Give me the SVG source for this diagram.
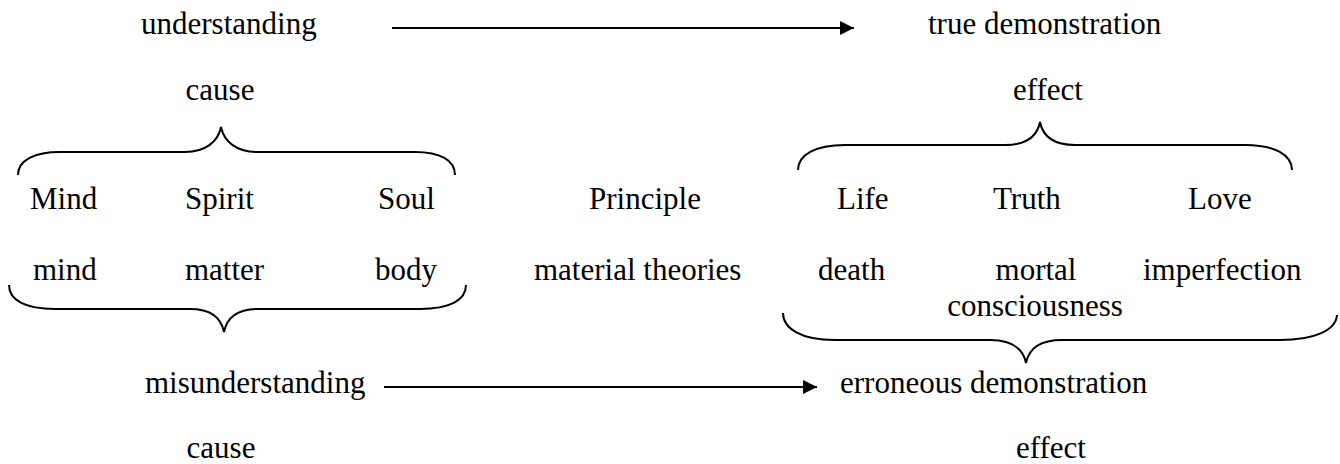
<svg xmlns="http://www.w3.org/2000/svg" width="1340" height="464" viewBox="0 0 1340 464">
<style>
text{font-family:"Liberation Serif","Times New Roman",serif;font-size:31px;fill:#000}
.b{fill:none;stroke:#000;stroke-width:2}
.l{stroke:#000;stroke-width:2.2}
</style>
<defs>
<marker id="ah" markerWidth="14" markerHeight="14" refX="14" refY="7" orient="auto" markerUnits="userSpaceOnUse">
<path d="M0,0 L14,7 L0,14 Z" fill="#000"/>
</marker>
</defs>
<rect width="1340" height="464" fill="#fff"/>
<g id="n-understanding"><text x="141" y="34">understanding</text></g>
<g id="n-truedemo"><text x="928" y="34">true demonstration</text></g>
<g id="n-cause1"><text x="220" y="100" text-anchor="middle">cause</text></g>
<g id="n-effect1"><text x="1048" y="100" text-anchor="middle">effect</text></g>
<g id="n-Mind"><text x="30" y="209">Mind</text></g>
<g id="n-Spirit"><text x="185" y="209">Spirit</text></g>
<g id="n-Soul"><text x="378" y="209">Soul</text></g>
<g id="n-Principle"><text x="645" y="209" text-anchor="middle">Principle</text></g>
<g id="n-Life"><text x="837" y="209">Life</text></g>
<g id="n-Truth"><text x="993" y="209">Truth</text></g>
<g id="n-Love"><text x="1188" y="209">Love</text></g>
<g id="n-mind"><text x="33" y="280">mind</text></g>
<g id="n-matter"><text x="185" y="280">matter</text></g>
<g id="n-body"><text x="375" y="280">body</text></g>
<g id="n-material"><text x="534" y="280">material theories</text></g>
<g id="n-death"><text x="818" y="280">death</text></g>
<g id="n-mortal"><text x="1036" y="280" text-anchor="middle">mortal</text><text x="1035" y="316" text-anchor="middle">consciousness</text></g>
<g id="n-imperfection"><text x="1143" y="280">imperfection</text></g>
<g id="n-misunderstanding"><text x="145" y="393">misunderstanding</text></g>
<g id="n-erroneous"><text x="840" y="393">erroneous demonstration</text></g>
<g id="n-cause2"><text x="221" y="458" text-anchor="middle">cause</text></g>
<g id="n-effect2"><text x="1051" y="458" text-anchor="middle">effect</text></g>
<g id="connectors">
<line class="l" x1="392" y1="28" x2="854" y2="28" marker-end="url(#ah)"/>
<line class="l" x1="384" y1="387" x2="817" y2="387" marker-end="url(#ah)"/>
<path class="b" d="M18,175 C18,160 35,152 60,152 L185,152 C205,152 218,142 221,127 C224,142 237,152 257,152 L415,152 C440,152 455,160 455,175"/>
<path class="b" d="M798,170 C798,155 815,145 845,145 L1005,145 C1025,145 1037,137 1040,122 C1043,137 1055,145 1075,145 L1245,145 C1275,145 1292,155 1292,170"/>
<path class="b" d="M9,285 C9,300 25,309 55,309 L190,309 C210,309 221,317 224,332 C227,317 238,309 258,309 L420,309 C450,309 466,300 466,285"/>
<path class="b" d="M783,313 C783,328 800,340 835,340 L990,340 C1012,340 1023,348 1026,363 C1029,348 1040,340 1062,340 L1280,340 C1315,340 1336,330 1337,315"/>
</g>
</svg>
